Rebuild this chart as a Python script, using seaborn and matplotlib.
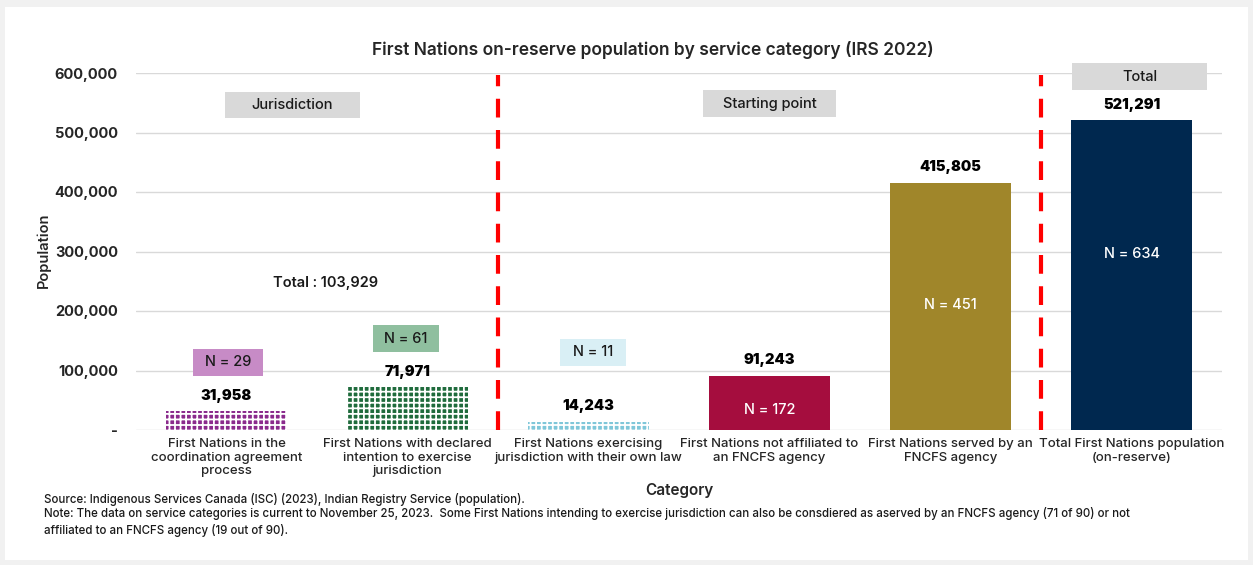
import matplotlib
matplotlib.use("Agg")
import matplotlib.pyplot as plt
from matplotlib.patches import Rectangle
from matplotlib.ticker import FuncFormatter
import seaborn as sns

categories = [
    "First Nations in the\ncoordination agreement\nprocess",
    "First Nations with declared\nintention to exercise\njurisdiction",
    "First Nations exercising\njurisdiction with their own law",
    "First Nations not affiliated to\nan FNCFS agency",
    "First Nations served by an\nFNCFS agency",
    "Total First Nations population\n(on-reserve)",
]
population = [31958, 71971, 14243, 91243, 415805, 521291]
n_counts = [29, 61, 11, 172, 451, 634]
bar_colors = ["#8a2a8c", "#1f6b3c", "#7fc7d9", "#a50d3e", "#a0862a", "#00284f"]
hatched = [True, True, True, False, False, False]
jurisdiction_total = 103929

sns.set_theme(style="white")
plt.rcParams["font.family"] = ["Inter", "DejaVu Sans"]
plt.rcParams["hatch.linewidth"] = 1.3

fig = plt.figure(figsize=(12.53, 5.65), dpi=100)
fig.patch.set_facecolor("#f1f1f1")
fig.patches.append(Rectangle((5 / 1253, 5 / 565), 1243 / 1253, 553 / 565,
                             transform=fig.transFigure, facecolor="white",
                             edgecolor="none", zorder=-10))

ax = fig.add_axes([136 / 1253, 1 - 430 / 565, 1086 / 1253, 357 / 565])
ax.set_facecolor("none")

sns.barplot(x=categories, y=population, hue=categories, palette=bar_colors,
            legend=False, width=0.67, ax=ax, saturation=1, zorder=3)

for patch, h in zip(ax.patches, hatched):
    patch.set_linewidth(0)
    if h:
        patch.set_edgecolor("white")
        patch.set_hatch("+++")

ax.set_ylim(0, 600000)
ax.set_xlim(-0.5, 5.5)
ax.set_yticks(range(0, 600001, 100000))
ax.yaxis.set_major_formatter(FuncFormatter(lambda v, p: "-" if v == 0 else f"{int(v):,}"))
ax.grid(axis="y", color="#d9d9d9", linewidth=1, zorder=0)
for s in ax.spines.values():
    s.set_visible(False)
ax.tick_params(axis="y", length=0, pad=13, labelsize=10.5, labelcolor="#262626")
ax.tick_params(axis="x", length=0, pad=6, labelsize=9.5, labelcolor="#262626")
for lbl in ax.get_yticklabels():
    lbl.set_fontweight("bold")
for lbl in ax.get_xticklabels():
    lbl.set_fontweight("medium")
    lbl.set_linespacing(1.15)

ax.set_xlabel("Category", fontsize=11, fontweight="semibold", color="#262626", labelpad=4)
fig.text(44 / 1253, 1 - 250 / 565, "Population", rotation=90, ha="center", va="center",
         fontsize=10.5, fontweight="semibold", color="#262626")
fig.text(653 / 1253, 1 - 50 / 565,
         "First Nations on-reserve population by service category (IRS 2022)",
         ha="center", va="center", fontsize=12.5, fontweight="semibold", color="#262626")

# value labels above bars
for i, v in enumerate(population):
    ax.text(i, v + 14000, f"{v:,}", ha="center", va="bottom", fontsize=10.5,
            fontweight=900, color="black", zorder=5)

# N labels inside the solid bars
for i, v in [(3, 34000), (4, 210000), (5, 296000)]:
    ax.text(i, v, f"N = {n_counts[i]}", ha="center", va="center", fontsize=10.5,
            fontweight="medium", color="white", zorder=5)

# N label boxes above the hatched bars
n_boxes = [(-0.185, 0.202, 91000, 136000, "#c78bc6"),
           (0.809, 1.174, 131000, 176000, "#8fbf9f"),
           (1.843, 2.207, 108000, 153000, "#d9eff5")]
for i, (x0, x1, y0, y1, c) in enumerate(n_boxes):
    ax.add_patch(Rectangle((x0, y0), x1 - x0, y1 - y0, facecolor=c, edgecolor="none", zorder=4))
    ax.text((x0 + x1) / 2, (y0 + y1) / 2, f"N = {n_counts[i]}", ha="center", va="center",
            fontsize=10.5, fontweight="medium", color="#1a1a1a", zorder=5)

# group header boxes
headers = [(-0.008, 0.738, 524000, 568000, "Jurisdiction"),
           (2.633, 3.367, 526000, 571000, "Starting point"),
           (4.671, 5.417, 571000, 617000, "Total")]
for x0, x1, y0, y1, t in headers:
    ax.add_patch(Rectangle((x0, y0), x1 - x0, y1 - y0, facecolor="#d9d9d9",
                           edgecolor="none", zorder=4, clip_on=False))
    ax.text((x0 + x1) / 2, (y0 + y1) / 2, t, ha="center", va="center",
            fontsize=10.5, fontweight="medium", color="#1a1a1a", zorder=5, clip_on=False)

ax.text(0.55, 247000, f"Total : {jurisdiction_total:,}", ha="center", va="center",
        fontsize=10.5, fontweight="semibold", color="#1a1a1a")

# group separators
for xs in (1.5, 4.5):
    ax.plot([xs, xs], [0, 597000], color="#ff0000", linewidth=3, dashes=(4.5, 3.0),
            zorder=4, solid_capstyle="butt")

fig.text(44 / 1253, 1 - 499 / 565,
         "Source: Indigenous Services Canada (ISC) (2023), Indian Registry Service (population).",
         fontsize=8.3, fontweight="medium", color="#1a1a1a", va="center")
fig.text(44 / 1253, 1 - 522 / 565,
         "Note: The data on service categories is current to November 25, 2023.  Some First Nations "
         "intending to exercise jurisdiction can also be consdiered as aserved by an FNCFS agency "
         "(71 of 90) or not\naffiliated to an FNCFS agency (19 out of 90).",
         fontsize=8.3, fontweight="medium", color="#1a1a1a", va="center", linespacing=1.45)

fig.savefig("out.png", dpi=100, facecolor=fig.get_facecolor())
